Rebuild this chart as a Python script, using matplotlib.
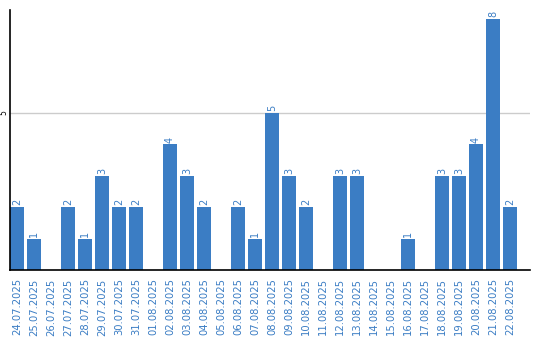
import matplotlib
matplotlib.use('Agg')
import matplotlib.pyplot as plt

# daily counts
dates = ['24.07.2025', '25.07.2025', '26.07.2025', '27.07.2025', '28.07.2025',
         '29.07.2025', '30.07.2025', '31.07.2025', '01.08.2025', '02.08.2025',
         '03.08.2025', '04.08.2025', '05.08.2025', '06.08.2025', '07.08.2025',
         '08.08.2025', '09.08.2025', '10.08.2025', '11.08.2025', '12.08.2025',
         '13.08.2025', '14.08.2025', '15.08.2025', '16.08.2025', '17.08.2025',
         '18.08.2025', '19.08.2025', '20.08.2025', '21.08.2025', '22.08.2025']
counts = [2, 1, 0, 2, 1, 3, 2, 2, 0, 4,
          3, 2, 0, 2, 1, 5, 3, 2, 0, 3,
          3, 0, 0, 1, 0, 3, 3, 4, 8, 2]

blue = '#3b7dc4'

fig = plt.figure(figsize=(5.4, 3.4), dpi=100)
ax = fig.add_axes([10/540, 70/340, 520/540, 260/340])

x = list(range(len(dates)))
ax.bar(x, counts, width=14/17, color=blue, zorder=2)

# value labels above non-zero bars
for xi, c in zip(x, counts):
    if c > 0:
        ax.text(xi, c + 0.06, str(c), rotation=90, ha='center', va='bottom',
                color=blue, fontsize=7)

ax.set_xlim(-7/17, -7/17 + 520/17)
ax.set_ylim(0, 260/31.4)

ax.set_xticks(x)
ax.set_xticklabels(dates, rotation=90, color=blue, fontsize=7.2)
ax.set_yticks([5])
ax.set_yticklabels(['5'], rotation=90, fontsize=5.5, va='center')
ax.tick_params(axis='both', length=0)
ax.tick_params(axis='x', pad=6)
ax.tick_params(axis='y', pad=1)

ax.yaxis.grid(True, color='#cccccc', linewidth=1, zorder=0)
ax.set_axisbelow(True)

for s in ['top', 'right']:
    ax.spines[s].set_visible(False)
ax.spines['left'].set_color('black')
ax.spines['bottom'].set_color('black')
ax.spines['left'].set_linewidth(1.2)
ax.spines['bottom'].set_linewidth(1.2)

fig.savefig('out.png', dpi=100)
